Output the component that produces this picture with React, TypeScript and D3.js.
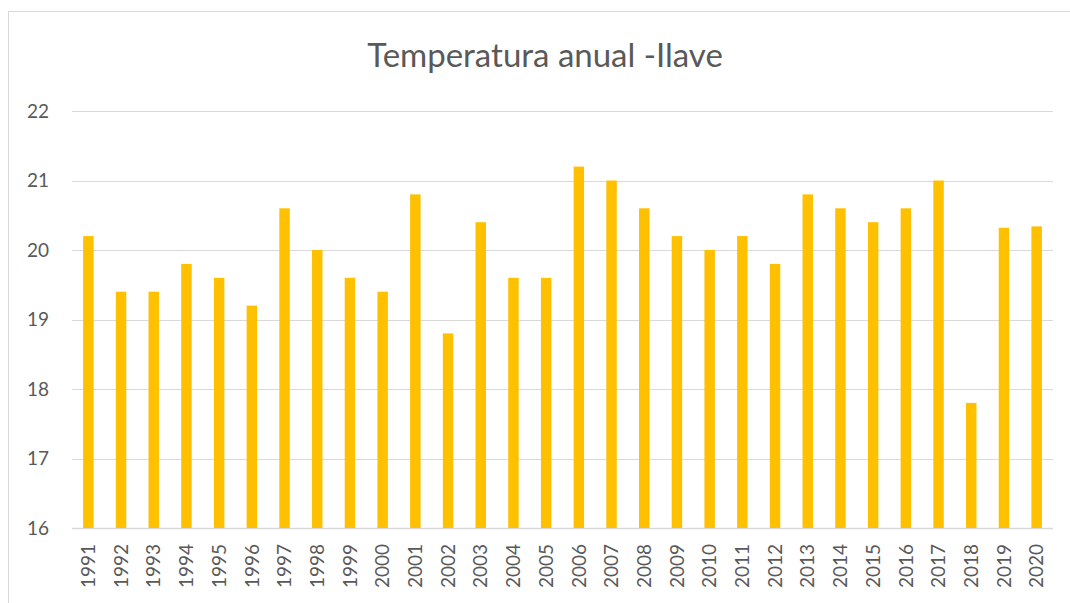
import React from "react";
import { scaleBand, scaleLinear } from "d3";

// annual temperature, Ilave
const years = [
  "1991", "1992", "1993", "1994", "1995", "1996", "1997", "1998", "1999", "2000",
  "2001", "2002", "2003", "2004", "2005", "2006", "2007", "2008", "2009", "2010",
  "2011", "2012", "2013", "2014", "2015", "2016", "2017", "2018", "2019", "2020"
];
const temps = [
  20.2, 19.4, 19.4, 19.8, 19.6, 19.2, 20.6, 20.0, 19.6, 19.4,
  20.8, 18.8, 20.4, 19.6, 19.6, 21.2, 21.0, 20.6, 20.2, 20.0,
  20.2, 19.8, 20.8, 20.6, 20.4, 20.6, 21.0, 17.8, 20.32, 20.34
];
const yTicks = [16, 17, 18, 19, 20, 21, 22];

const W = 1070;
const H = 603;
const margin = { top: 111, right: 17, bottom: 75, left: 72 };
const font = "Lato, 'Open Sans', sans-serif";
const textColor = "#595959";
const gridColor = "#d9d9d9";
const barColor = "#FFC000";

const App = () => {
  const x = scaleBand()
    .domain(years)
    .range([margin.left, W - margin.right])
    .paddingInner(0.68)
    .paddingOuter(0.34);
  const y = scaleLinear().domain([16, 22]).range([H - margin.bottom, margin.top]);

  return (
    <svg
      width={W}
      height={H}
      style={{ position: "absolute", left: 0, top: 0, background: "#fff" }}
    >
      <rect x={8.5} y={11.5} width={W} height={H} fill="#fff" stroke={gridColor} />
      <text
        x={545}
        y={67}
        textAnchor="middle"
        fontFamily={font}
        fontSize={33}
        fill={textColor}
      >
        Temperatura anual -Ilave
      </text>

      {/* gridlines + y labels */}
      {yTicks.map((t) => (
        <g key={t}>
          <line
            x1={margin.left}
            x2={W - margin.right}
            y1={Math.round(y(t)) + 0.5}
            y2={Math.round(y(t)) + 0.5}
            stroke={gridColor}
            strokeWidth={t === 16 ? 1.5 : 1}
          />
          <text
            x={49}
            y={y(t)}
            dy="0.35em"
            textAnchor="end"
            fontFamily={font}
            fontSize={19}
            fill={textColor}
          >
            {t}
          </text>
        </g>
      ))}

      {years.map((yr, i) => (
        <rect
          key={yr}
          x={x(yr)}
          width={x.bandwidth()}
          y={y(temps[i])}
          height={y(16) - y(temps[i])}
          fill={barColor}
        />
      ))}

      {years.map((yr) => {
        const cx = (x(yr) as number) + x.bandwidth() / 2;
        const ty = y(16) + 16;
        return (
          <text
            key={yr}
            transform={`translate(${cx},${ty}) rotate(-90)`}
            dy="0.35em"
            textAnchor="end"
            fontFamily={font}
            fontSize={19}
            fill={textColor}
          >
            {yr}
          </text>
        );
      })}
    </svg>
  );
};

export default App;
